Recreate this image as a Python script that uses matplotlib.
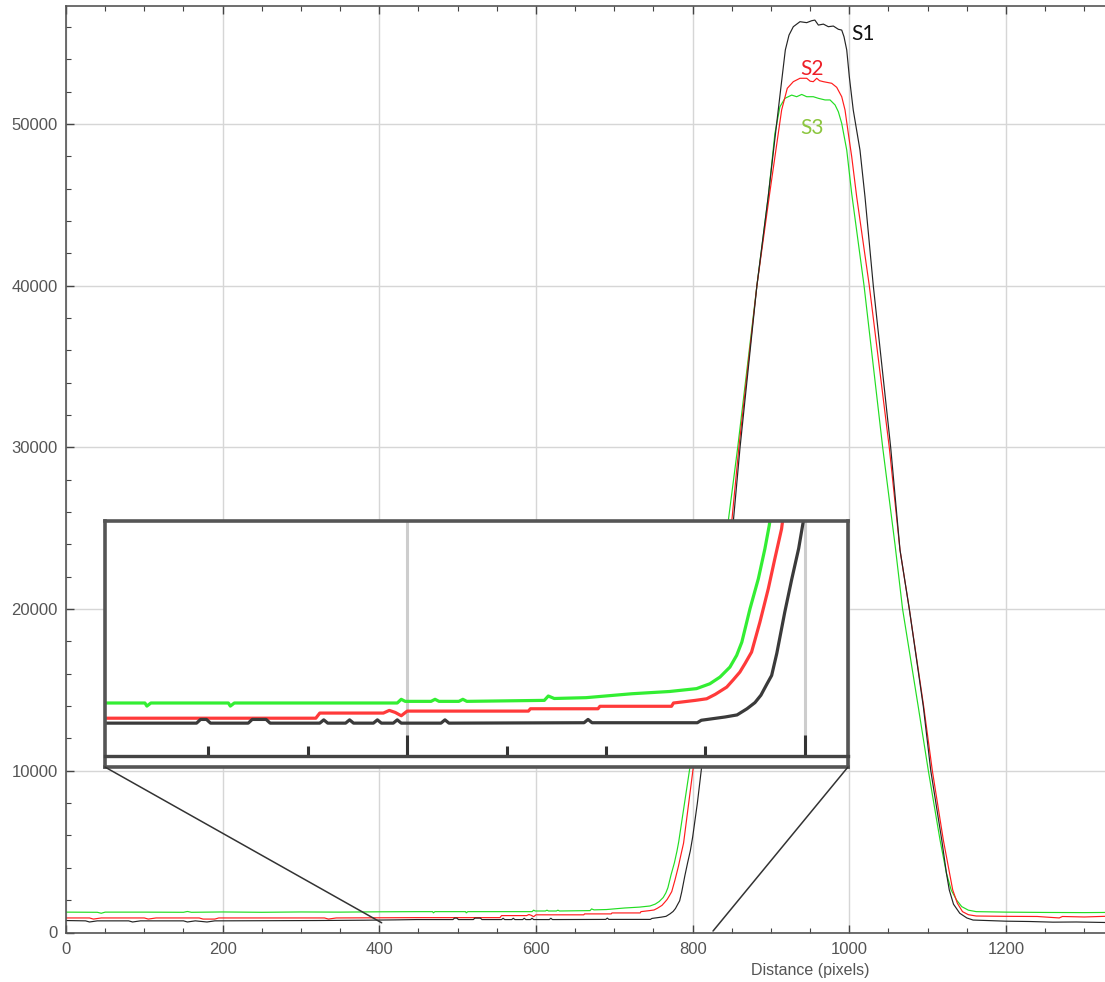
import matplotlib.pyplot as plt
from matplotlib.patches import ConnectionPatch
from matplotlib.ticker import MultipleLocator

plt.rcParams['font.family'] = ['Liberation Sans', 'DejaVu Sans']

# Line profiles: distance (pixels) vs intensity
s1_x = [0, 25, 30, 40, 80, 85, 95, 150, 155, 165, 180, 190, 260, 320, 380, 420,
        448, 494, 496, 499, 501, 520, 522, 529, 531, 556, 558, 560, 569, 571, 573,
        583, 585, 587, 593, 595, 597, 617, 619, 621, 689, 691, 693,
        746, 748, 760, 766, 771, 775, 778, 781, 783.4, 786, 788, 790, 793.5, 797,
        800, 806, 811.5, 830,
        852, 860.5, 882, 896.4, 905, 912, 918.3, 923, 928.5, 937, 945.6, 952, 956,
        960.5, 966.9, 973.2, 979.6, 986, 990.3, 993.2, 996.7, 1000, 1005, 1013.6, 1020,
        1030.6, 1052.8, 1064.7, 1076.6, 1094.5, 1104, 1118, 1124, 1127.6, 1133, 1141,
        1150, 1158, 1200, 1230, 1260, 1290, 1326]
s1_y = [740, 720, 650, 720, 720, 650, 720, 720, 650, 720, 650, 720, 730, 740, 760, 780,
        800, 800, 890, 890, 800, 800, 890, 890, 800, 800, 880, 800, 800, 880, 800,
        800, 880, 800, 800, 880, 800, 800, 880, 800, 810, 890, 810,
        810, 870, 950, 1000, 1150, 1300, 1480, 1750, 1960, 2500, 3000, 3500, 4300, 5050,
        5900, 8000, 10250, 17200,
        25470, 30000, 40000, 45500, 49100, 52000, 54580, 55500, 56020, 56330, 56270, 56390, 56430,
        56120, 56180, 56020, 56060, 55860, 55810, 55400, 54580, 52920, 50870, 48390, 45500,
        40000, 30000, 23655, 20000, 13960, 10000, 5720, 3660, 2630, 1750, 1190,
        900, 770, 700, 680, 640, 650, 620]

s2_x = [0, 30, 35, 45, 100, 105, 115, 170, 175, 190, 195, 260, 330, 335, 345, 400,
        448, 554, 556, 588, 591, 594, 597, 600, 661, 662, 696, 697, 733, 734,
        745, 750.7, 755, 760.8, 764, 767.4, 770, 773.3, 777.5, 781.7, 785, 788.4, 800.9,
        850, 859, 882, 898, 913.6, 920.8, 928.5, 937, 945.6, 950, 954, 958.4, 962,
        966.9, 977.5, 983.9, 990.3, 994.5, 998.7, 1003, 1009.4,
        1025.5, 1051, 1064.7, 1076.6, 1095, 1106, 1120, 1128, 1132, 1138, 1144.5,
        1152, 1162, 1200, 1240, 1268, 1272, 1300, 1326]
s2_y = [900, 900, 830, 900, 900, 830, 900, 900, 830, 830, 900, 900, 900, 830, 900, 910,
        920, 920, 1045, 1045, 1110, 1060, 980, 1093, 1093, 1150, 1150, 1210, 1210, 1290,
        1354, 1393, 1500, 1677, 1850, 2042, 2250, 2529, 3259, 4069, 4799, 5529, 10250,
        25470, 30000, 40000, 45600, 50870, 52210, 52620, 52830, 52830, 52650, 52620, 52830, 52680,
        52620, 52520, 52270, 51690, 50870, 49420, 48000, 45500,
        40000, 30000, 23655, 20000, 13960, 10000, 5720, 3660, 2630, 1800, 1290,
        1100, 1020, 1000, 990, 900, 990, 960, 1000]

s3_x = [0, 40, 45, 50, 100, 150, 155, 160, 200, 250, 300, 350, 400,
        448, 468, 469, 471, 510, 511, 513, 595, 597, 599, 612, 614, 616, 626, 628, 630,
        669, 671, 674, 690, 713, 732,
        745.6, 752.3, 757.4, 762.4, 765.8, 768.4, 772.5, 776.7, 780, 782.2, 796.6,
        845.5, 857.5, 882, 896.5, 905, 911.4, 917.8, 926.4, 932.8, 939.2, 945.6, 954,
        960.5, 969, 975.4, 981.8, 986, 990.3, 996.7, 1003,
        1018.8, 1042.6, 1058.3, 1068, 1088, 1100.9, 1115.8, 1124, 1130, 1137, 1143.5,
        1152, 1162, 1200, 1250, 1300, 1326]
s3_y = [1260, 1250, 1190, 1260, 1260, 1250, 1300, 1250, 1270, 1250, 1270, 1260, 1280,
        1290, 1290, 1215, 1290, 1290, 1215, 1290, 1290, 1380, 1330, 1330, 1380, 1330, 1330, 1380, 1330,
        1354, 1460, 1400, 1420, 1515, 1570,
        1640, 1758, 1921, 2164, 2450, 2772, 3583, 4313, 5042, 5612, 10250,
        25470, 30000, 40000, 45500, 49420, 51070, 51590, 51790, 51690, 51830, 51690, 51690,
        51590, 51490, 51490, 51180, 50760, 50040, 48390, 45710,
        40000, 30000, 24000, 20000, 13960, 10000, 5720, 3660, 2630, 2000, 1600,
        1380, 1290, 1260, 1240, 1230, 1240]

labels = ['S1', 'S2', 'S3']
label_pos = [(1017.5, 55570), (953, 53400), (953, 49780)]
label_colors = ['#111111', '#ee2028', '#8cc63f']
line_colors = ['#252525', '#ff1c1c', '#22dd22']
inset_colors = ['#3a3a3a', '#ff3a3a', '#33ee33']

series = [(s1_x, s1_y), (s2_x, s2_y), (s3_x, s3_y)]

fig = plt.figure(figsize=(11.05, 9.82), dpi=100)
ax = fig.add_axes([66 / 1105, 49.5 / 982, 1039 / 1105, 926.5 / 982])

# draw green first, black last (black sits on top in the picture)
for (xs, ys), c in reversed(list(zip(series, line_colors))):
    ax.plot(xs, ys, color=c, lw=0.85)

ax.set_xlim(0, 1326.4)
ax.set_ylim(0, 57300)
ax.xaxis.set_major_locator(MultipleLocator(200))
ax.xaxis.set_minor_locator(MultipleLocator(50))
ax.yaxis.set_major_locator(MultipleLocator(10000))
ax.yaxis.set_minor_locator(MultipleLocator(2000))
ax.grid(True, which='major', color='#d6d6d6', lw=1.0)
ax.set_axisbelow(True)
ax.tick_params(which='both', direction='in', top=True, right=False,
               color='#444444', labelcolor='#555555', labelsize=12)
ax.tick_params(which='major', length=6, width=1.0)
ax.tick_params(which='minor', length=3.5, width=0.8)
ax.tick_params(axis='x', pad=7)
ax.tick_params(axis='y', pad=6)
for side in ['left', 'bottom', 'top']:
    ax.spines[side].set_color('#555555')
    ax.spines[side].set_linewidth(1.2)
ax.spines['right'].set_visible(False)

ax.set_xlabel('Distance (pixels)', fontsize=11.5, color='#555555')
ax.xaxis.set_label_coords(0.716, -0.033)

for txt, (tx, ty), c in zip(labels, label_pos, label_colors):
    ax.text(tx, ty, txt, ha='center', va='center', fontsize=15,
            family=['Lato', 'DejaVu Sans'], color=c)

# magnified view of the baseline before the rising edge
axin = ax.inset_axes([0.0375, 0.1786, 0.7151, 0.2655])
for (xs, ys), c in reversed(list(zip(series, inset_colors))):
    axin.plot(xs, ys, color=c, lw=2.3)
axin.set_xlim(447.9, 821.8)
axin.set_ylim(-268, 5718)
axin.vlines([600, 800], 0, 5718, color='#cdcdcd', lw=2.2, zorder=0)
axin.set_xticks([600, 800])
axin.set_xticks([500, 550, 650, 700, 750], minor=True)
axin.set_yticks([])
axin.tick_params(which='both', direction='in', color='#333333',
                 labelbottom=False, left=False, labelleft=False)
axin.tick_params(which='major', length=15, width=2.2)
axin.tick_params(which='minor', length=7.5, width=2.2)
axin.spines['bottom'].set_position(('data', 0))
axin.spines['bottom'].set_color('#444444')
axin.spines['bottom'].set_linewidth(2.4)
for side in ['left', 'top', 'right']:
    axin.spines[side].set_color('#555555')
    axin.spines[side].set_linewidth(2.6)
axin.plot([0, 1], [0, 0], transform=axin.transAxes, clip_on=False,
          color='#555555', lw=2.6)

# lines tying the inset to the region it magnifies
for corner, target in [((0, 0), (403, 600)), ((1, 0), (826, 90))]:
    con = ConnectionPatch(xyA=corner, coordsA=axin.transAxes,
                          xyB=target, coordsB=ax.transData,
                          color='#333333', lw=1.1)
    fig.add_artist(con)

fig.savefig('out.png', dpi=100)
